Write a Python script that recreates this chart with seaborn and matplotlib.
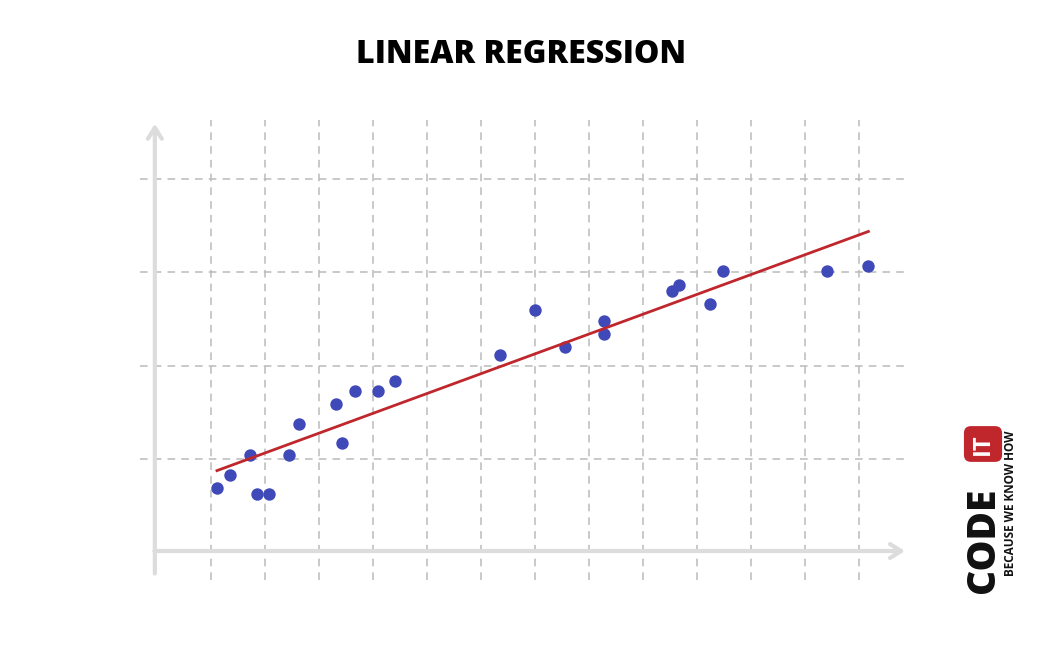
import matplotlib
matplotlib.use("Agg")
import matplotlib.pyplot as plt
import seaborn as sns
import numpy as np
import pandas as pd

x_vals = [1.11,1.35,1.72,1.85,2.07,2.44,2.63,3.31,3.43,3.67,4.09,4.41,6.35,7.0,7.56,8.28,8.28,9.54,9.67,10.24,10.48,12.41,13.17]
y_vals = [0.67,0.81,1.03,0.61,0.61,1.03,1.36,1.57,1.15,1.71,1.71,1.82,2.10,2.58,2.18,2.46,2.32,2.78,2.84,2.64,2.99,2.99,3.05]
df = pd.DataFrame({"x": x_vals, "y": y_vals})

W, H = 1042, 646
fig = plt.figure(figsize=(W/100, H/100), dpi=100)
ax = fig.add_axes([140/W, 1-580/H, 770/W, 460/H])
ax.set_xlim(-0.315, 13.94)
ax.set_ylim(-0.31, 4.61)

ax.set_xticks(range(1, 14))
ax.set_yticks([0.98, 1.98, 2.98, 3.98])
ax.tick_params(length=0, labelbottom=False, labelleft=False)
ax.grid(True, color="#bbbbbb", linestyle=(0, (5, 4)), linewidth=1.1)
for s in ax.spines.values():
    s.set_visible(False)

ax.annotate("", xy=(13.9, 0), xytext=(-0.1, 0),
            arrowprops=dict(arrowstyle="->,head_length=0.8,head_width=0.5", color="#dcdcdc", lw=3))
ax.annotate("", xy=(-0.04, 4.6), xytext=(-0.04, -0.27),
            arrowprops=dict(arrowstyle="->,head_length=0.8,head_width=0.5", color="#dcdcdc", lw=3))

sns.regplot(data=df, x="x", y="y", ax=ax, ci=None, truncate=True,
            scatter_kws=dict(s=80, color="#4049b8", alpha=1, linewidths=0, zorder=3),
            line_kws=dict(color="#c0272d", lw=2, zorder=4))
ax.set_xlabel(""); ax.set_ylabel("")

fig.text(0.5, 1-55/H, "LINEAR REGRESSION", ha="center", va="center",
         fontsize=23, fontweight="heavy", family="Open Sans")

# logo
fig.text(983/W, 1-540/H, "CODE", rotation=90, ha="center", va="center",
         fontsize=28, fontweight="heavy", family="Open Sans", color="#111111")
fig.text(983/W, 1-444/H, "IT", rotation=90, ha="center", va="center",
         fontsize=17, fontweight="bold", family="Open Sans", color="white",
         bbox=dict(boxstyle="round,pad=0.3", fc="#c0272d", ec="none"))
fig.text(1010/W, 1-503/H, "BECAUSE WE KNOW HOW", rotation=90, ha="center", va="center",
         fontsize=8.5, fontweight="bold", family="Open Sans", color="#111111")

fig.savefig("out.png", dpi=100, facecolor="white")
